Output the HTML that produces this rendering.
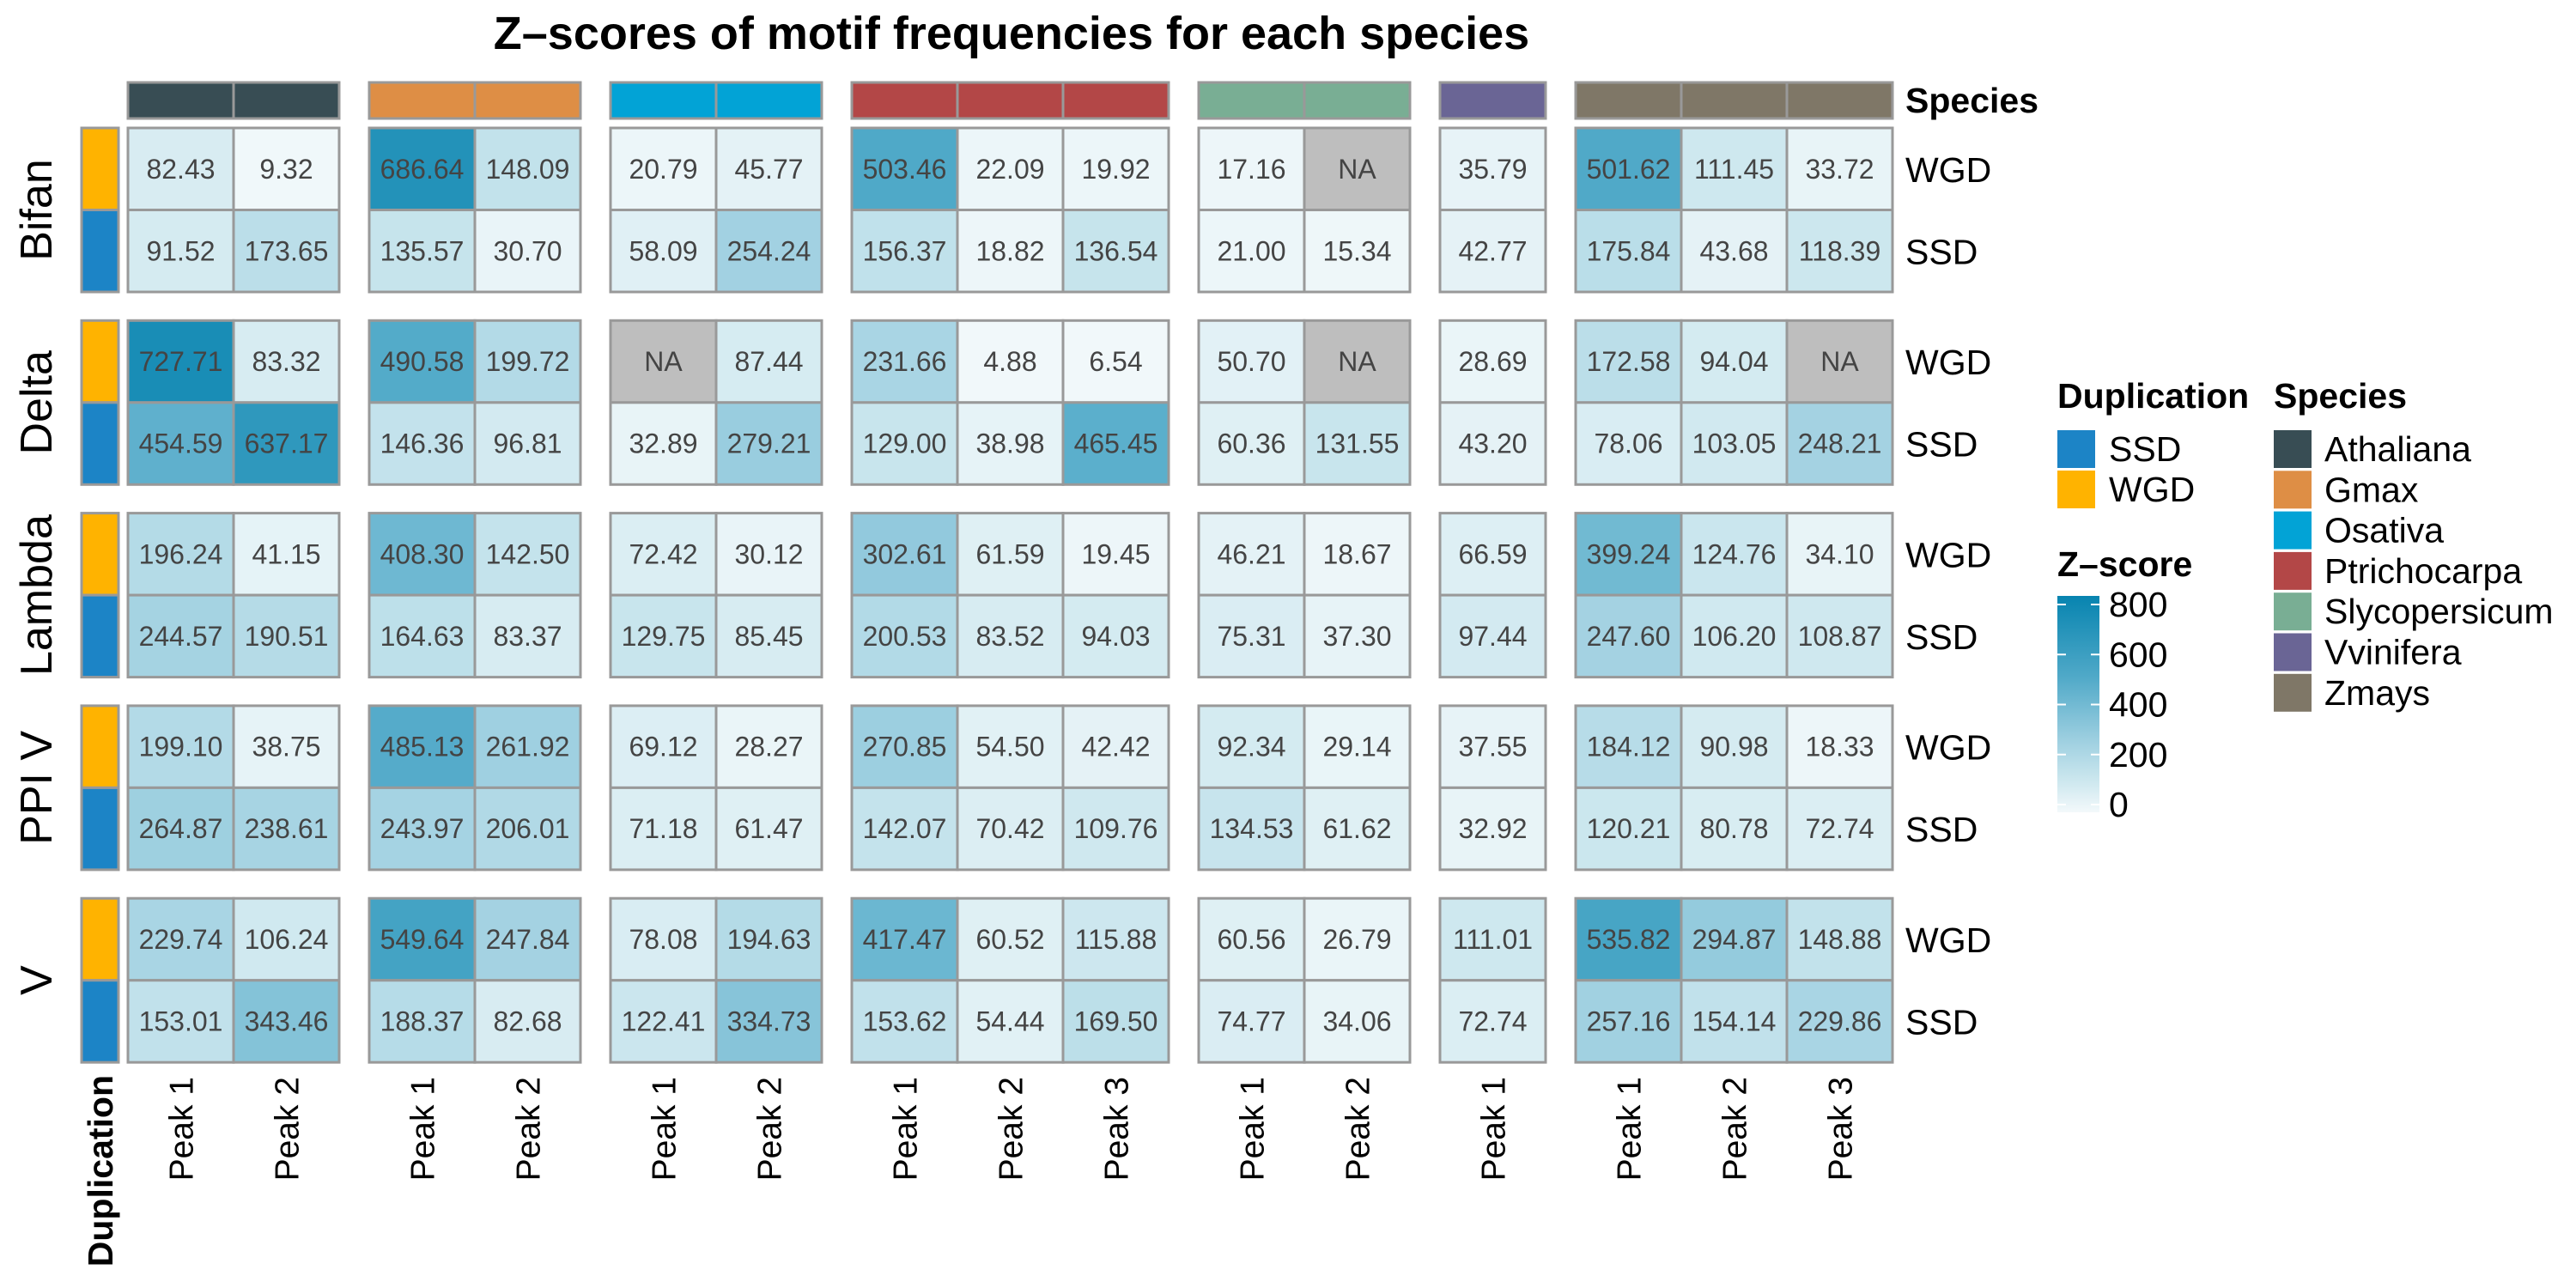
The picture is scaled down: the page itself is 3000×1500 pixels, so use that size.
<!DOCTYPE html>
<html><head><meta charset="utf-8"><style>
html,body{margin:0;padding:0;background:#fff;width:3000px;height:1500px;overflow:hidden}
svg{display:block;font-family:"Liberation Sans",Arial,sans-serif}
</style></head><body>
<svg id="chart" width="3000" height="1500" viewBox="0 0 3000 1500" xmlns="http://www.w3.org/2000/svg">
<text x="1178" y="57" font-size="54" font-weight="bold" text-anchor="middle">Z–scores of motif frequencies for each species</text>
<g id="grid"></g>
<g id="legend"></g>
</svg>
<script>
const species = ["Athaliana","Gmax","Osativa","Ptrichocarpa","Slycopersicum","Vvinifera","Zmays"];
const speciesPeaks = [2,2,2,3,2,1,3];
const speciesColors = ["#384d54","#de8e45","#02a3d6","#b34747","#79ae94","#6a6595","#7f7767"];
const motifs = ["Bifan","Delta","Lambda","PPI V","V"];
const dups = ["WGD","SSD"];
const dupColors = {WGD:"#ffb300",SSD:"#1c84c6"};
const bifanWGD = [82.43,9.32,686.64,148.09,20.79,45.77,503.46,22.09,19.92,17.16,null,35.79,501.62,111.45,33.72];
const bifanSSD = [91.52,173.65,135.57,30.70,58.09,254.24,156.37,18.82,136.54,21.00,15.34,42.77,175.84,43.68,118.39];
const deltaWGD = [727.71,83.32,490.58,199.72,null,87.44,231.66,4.88,6.54,50.70,null,28.69,172.58,94.04,null];
const deltaSSD = [454.59,637.17,146.36,96.81,32.89,279.21,129.00,38.98,465.45,60.36,131.55,43.20,78.06,103.05,248.21];
const lambdaWGD = [196.24,41.15,408.30,142.50,72.42,30.12,302.61,61.59,19.45,46.21,18.67,66.59,399.24,124.76,34.10];
const lambdaSSD = [244.57,190.51,164.63,83.37,129.75,85.45,200.53,83.52,94.03,75.31,37.30,97.44,247.60,106.20,108.87];
const ppivWGD = [199.10,38.75,485.13,261.92,69.12,28.27,270.85,54.50,42.42,92.34,29.14,37.55,184.12,90.98,18.33];
const ppivSSD = [264.87,238.61,243.97,206.01,71.18,61.47,142.07,70.42,109.76,134.53,61.62,32.92,120.21,80.78,72.74];
const vWGD = [229.74,106.24,549.64,247.84,78.08,194.63,417.47,60.52,115.88,60.56,26.79,111.01,535.82,294.87,148.88];
const vSSD = [153.01,343.46,188.37,82.68,122.41,334.73,153.62,54.44,169.50,74.77,34.06,72.74,257.16,154.14,229.86];
const rowsData = [[bifanWGD,bifanSSD],[deltaWGD,deltaSSD],[lambdaWGD,lambdaSSD],[ppivWGD,ppivSSD],[vWGD,vSSD]];
const colorTicks = [0,200,400,600,800];

const NS="http://www.w3.org/2000/svg";
const CW=123, GAP=35, X0=149, Y0=149, RH=95.5, BP=224.3;
function mk(tag,attrs,parent){const e=document.createElementNS(NS,tag);for(const k in attrs)e.setAttribute(k,attrs[k]);parent.appendChild(e);return e;}
const stops=[[0,[243,249,251]],[130,[200,229,237]],[250,[163,210,226]],[500,[80,169,200]],[800,[7,132,176]]];
function colorScale(v){
  if(v<=0)return "rgb(243,249,251)";
  for(let i=1;i<stops.length;i++){if(v<=stops[i][0]||i==stops.length-1){const a=stops[i-1],b=stops[i];let t=(v-a[0])/(b[0]-a[0]);t=Math.min(1,t);return "rgb("+a[1].map((c,j)=>Math.round(c+(b[1][j]-c)*t)).join(",")+")";}}
}
const colX=[], colSp=[], colPeak=[];
let x=X0;
species.forEach((s,si)=>{for(let p=0;p<speciesPeaks[si];p++){colX.push(x);colSp.push(si);colPeak.push(p+1);x+=CW;}x+=GAP;});
function xPos(c){return colX[c];}
function yPos(m,d){return Y0+m*BP+d*RH;}
const g=document.getElementById('grid');
colX.forEach((cx,c)=>{
  const r=mk('rect',{x:cx,y:96,width:CW,height:42,fill:speciesColors[colSp[c]],stroke:"#999","stroke-width":3},g);
  
  
});
const sl=mk('text',{x:2219,y:131,"font-size":41,"font-weight":"bold"},g);sl.textContent="Species";


rowsData.forEach((md,m)=>{
  md.forEach((vals,d)=>{
    const y=yPos(m,d);
    const db=mk('rect',{x:95,y:y,width:43,height:RH,fill:dupColors[dups[d]],stroke:"#999","stroke-width":3},g);
    
    
    vals.forEach((v,c)=>{
      const cx=xPos(c);
      const r=mk('rect',{x:cx,y:y,width:CW,height:RH,fill:v==null?"#bebebe":colorScale(v),stroke:"#999","stroke-width":3},g);
      
      
      const t=mk('text',{x:cx+CW/2,y:y+RH/2+11,"font-size":32,"text-anchor":"middle",fill:"#444"},g);
      t.textContent=v==null?"NA":v.toFixed(2);
      
      
    });
    const rl=mk('text',{x:2219,y:y+RH/2+15,"font-size":41},g);rl.textContent=dups[d];
    
    
  });
  const cy=Y0+m*BP+RH;
  const ml=mk('text',{x:0,y:0,"font-size":52,"text-anchor":"middle",transform:"translate(60,"+cy+") rotate(-90)"},g);
  ml.textContent=motifs[m];
  
  
});
colX.forEach((cx,c)=>{
  const t=mk('text',{x:0,y:0,"font-size":39,"text-anchor":"end",transform:"translate("+(cx+CW/2+14)+",1254) rotate(-90)"},g);
  t.textContent="Peak "+colPeak[c];
  
  
});
const dl=mk('text',{x:0,y:0,"font-size":41,"font-weight":"bold","text-anchor":"end",transform:"translate(131,1252) rotate(-90)"},g);
dl.textContent="Duplication";



const L=document.getElementById('legend');
let t=mk('text',{x:2396,y:475,"font-size":41,"font-weight":"bold"},L);t.textContent="Duplication";


["SSD","WGD"].forEach((d,i)=>{
  const r=mk('rect',{x:2396,y:501+i*47,width:44,height:44,fill:dupColors[d]},L);
  
  
  const tx=mk('text',{x:2456,y:537+i*47,"font-size":41},L);tx.textContent=d;
  
  
});
t=mk('text',{x:2648,y:475,"font-size":41,"font-weight":"bold"},L);t.textContent="Species";


species.forEach((s,i)=>{
  const r=mk('rect',{x:2648,y:501+i*47.3,width:44,height:44,fill:speciesColors[i]},L);
  
  
  const tx=mk('text',{x:2707,y:537+i*47.3,"font-size":41},L);tx.textContent=s;
  
  
});
t=mk('text',{x:2396,y:671,"font-size":41,"font-weight":"bold"},L);t.textContent="Z–score";


function cbY(v){return 937-v*233/800;}
const defs=mk('defs',{},L);
const lg=mk('linearGradient',{id:"cb",x1:0,y1:1,x2:0,y2:0},defs);
stops.forEach(s=>mk('stop',{offset:(s[0]/800),"stop-color":"rgb("+s[1].join(",")+")"},lg));
const cb=mk('rect',{x:2396,y:cbY(800)-10,width:49,height:cbY(0)-cbY(800)+19,fill:"url(#cb)"},L);


colorTicks.forEach(v=>{
  const y=cbY(v);
  mk('line',{x1:2396,x2:2406,y1:y,y2:y,stroke:"#fff","stroke-width":2},L);
  mk('line',{x1:2435,x2:2445,y1:y,y2:y,stroke:"#fff","stroke-width":2},L);
  const tx=mk('text',{x:2456,y:y+14,"font-size":41},L);tx.textContent=v;
  
  
});
</script>
</body></html>
